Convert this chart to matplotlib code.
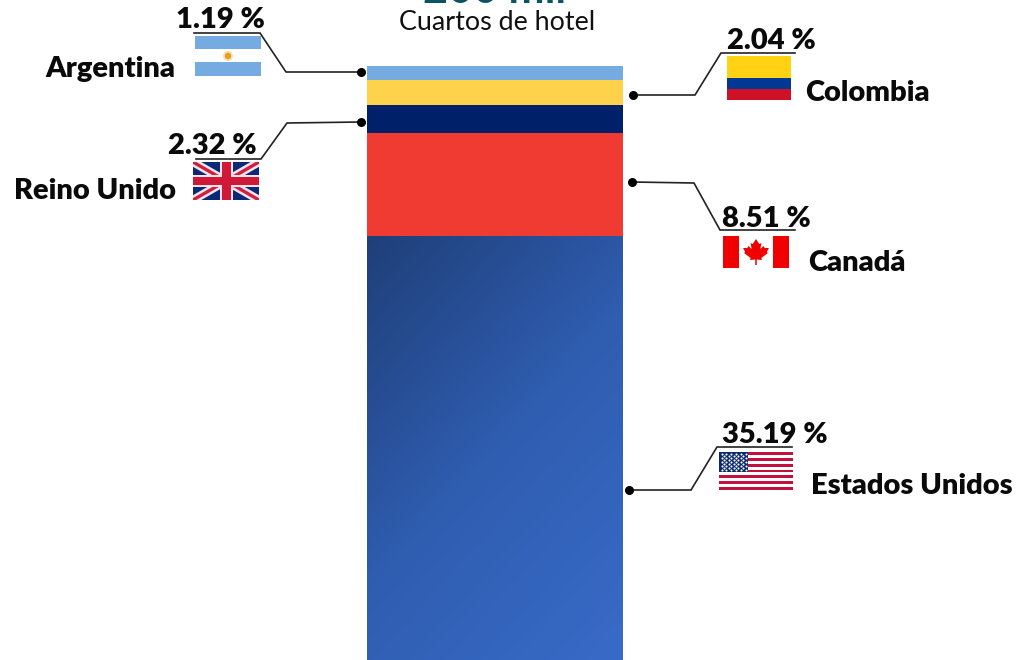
import numpy as np
import matplotlib
matplotlib.use("Agg")
import matplotlib.pyplot as plt
from matplotlib.colors import LinearSegmentedColormap
from matplotlib.patches import Rectangle, Polygon, Circle

countries = ["Argentina", "Colombia", "Reino Unido", "Canadá", "Estados Unidos"]
values = [1.19, 2.04, 2.32, 8.51, 35.19]
labels = ["1.19 %", "2.04 %", "2.32 %", "8.51 %", "35.19 %"]
colors = ["#75ABE0", "#FFD24C", "#002169", "#F03B32", "#2F5DB0"]
header = "200 mil"
subtitle = "Cuartos de hotel"

W, H = 1016, 660
plt.rcParams["font.family"] = ["Lato", "DejaVu Sans"]
fig = plt.figure(figsize=(W / 100, H / 100), dpi=100, facecolor="white")

# Annotation layer in pixel coordinates
ax = fig.add_axes([0, 0, 1, 1])
ax.set_xlim(0, W)
ax.set_ylim(H, 0)
ax.axis("off")

# Stacked bar
bx = fig.add_axes([367 / W, 0, 256 / W, 594 / H])
bx.axis("off")
bx.set_xlim(0, 1)
bx.set_ylim(sum(values), 0)
bottom = 0
patches = []
for v, c in zip(values, colors):
    patches.append(bx.bar(0.5, v, width=1, bottom=bottom, color=c, linewidth=0)[0])
    bottom += v

# Gradient on the largest segment
last = patches[-1]
yy, xx = np.mgrid[0:1:300j, 0:1:200j]
t = (0.74 * 256 * xx + 0.67 * 424 * yy) / (0.74 * 256 + 0.67 * 424)
cmap = LinearSegmentedColormap.from_list("g", ["#1F3F78", "#2F5DB0", "#386BC8"])
im = bx.imshow(t, cmap=cmap, extent=(0, 1, last.get_y() + last.get_height(), last.get_y()),
               aspect="auto", zorder=3, vmin=0, vmax=1, interpolation="bilinear")
im.set_clip_path(last)
bx.set_xlim(0, 1)
bx.set_ylim(sum(values), 0)

# Header (cut off by the top edge) and subtitle
ax.text(495, 3, header, color="#0B5563", fontsize=31, fontweight="bold",
        ha="center", va="baseline")
ax.text(497, 30, subtitle, color="#111111", fontsize=19.4, ha="center", va="baseline")

# Leaders
leaders = [
    [(194, 33), (260, 33), (286, 72), (361, 72)],
    [(795, 53), (721, 53), (695, 95), (633, 95)],
    [(196, 159), (261, 159), (287, 123), (361, 122)],
    [(795, 230), (720, 230), (694, 183), (632, 182)],
    [(792, 447), (717, 447), (691, 490), (629, 490)],
]
for pts in leaders:
    xs, ys = zip(*pts)
    ax.plot(xs, ys, color="#222222", lw=1.2, solid_joinstyle="miter")
    ax.plot(xs[-1], ys[-1], "o", color="black", ms=6.5, mew=0)

# Text positions: percentage (x, baseline y), name (x, baseline y)
pct_pos = [(220, 28), (771, 49), (212, 154), (766, 227), (775, 443)]
name_pos = [(175, 77, "right"), (805, 101, "left"), (176, 199, "right"),
            (808, 271, "left"), (811, 494, "left")]
for lab, (x, y) in zip(labels, pct_pos):
    ax.text(x, y, lab, fontsize=21, fontweight="heavy", color="#0A0A0A", ha="center", va="baseline")
for name, (x, y, ha) in zip(countries, name_pos):
    ax.text(x, y, name, fontsize=21, fontweight="heavy", color="#0A0A0A", ha=ha, va="baseline")


def rect(x0, y0, x1, y1, c, z=2):
    ax.add_patch(Rectangle((x0, y0), x1 - x0, y1 - y0, color=c, lw=0, zorder=z))


# Argentina
rect(195, 36, 261, 49, "#75ABE0")
rect(195, 62, 261, 76, "#75ABE0")
ax.add_patch(Circle((228, 56), 5, color="#F6DDAE", lw=0, zorder=3))
ax.add_patch(Circle((228, 56), 3.2, color="#E5A020", lw=0, zorder=4))

# Colombia
rect(727, 56, 791, 78, "#FFD314")
rect(727, 78, 791, 89, "#003893")
rect(727, 89, 791, 100, "#CE1126")

# Canada
rect(723, 236, 739, 268, "#F00000")
rect(773, 236, 789, 268, "#F00000")
cx, cy = 756, 251
leaf = [(0, -12), (3, -7), (5, -8), (4, -2), (7, -5), (8, -3), (12, -3), (10, 1), (11, 2),
        (5, 7), (5.5, 9), (0.7, 8.5), (0.7, 14), (-0.7, 14), (-0.7, 8.5), (-5.5, 9), (-5, 7),
        (-11, 2), (-10, 1), (-12, -3), (-8, -3), (-7, -5), (-4, -2), (-5, -8), (-3, -7)]
ax.add_patch(Polygon([(cx + 1.08 * a, cy + b) for a, b in leaf], color="#F00000", lw=0, zorder=3))

# United Kingdom
ux0, ux1, uy0, uy1 = 193, 259, 162, 200
um, vm = (ux0 + ux1) / 2, (uy0 + uy1) / 2
back = Rectangle((ux0, uy0), ux1 - ux0, uy1 - uy0, color="#0A2A78", lw=0, zorder=2)
ax.add_patch(back)
for (a, b) in [((ux0, uy0), (ux1, uy1)), ((ux0, uy1), (ux1, uy0))]:
    l1, = ax.plot([a[0], b[0]], [a[1], b[1]], color="#F4E4EA", lw=6, zorder=3, solid_capstyle="butt")
    l2, = ax.plot([a[0], b[0]], [a[1], b[1]], color="#D02040", lw=2.4, zorder=4, solid_capstyle="butt")
    l1.set_clip_path(back)
    l2.set_clip_path(back)
rect(um - 6.5, uy0, um + 6.5, uy1, "#F4E4EA", 5)
rect(ux0, vm - 6, ux1, vm + 6, "#F4E4EA", 5)
rect(um - 4.5, uy0, um + 4.5, uy1, "#D01838", 6)
rect(ux0, vm - 3.8, ux1, vm + 3.8, "#D01838", 6)

# United States
sx0, sx1, sy0, sy1 = 719, 793, 452, 490
sh = (sy1 - sy0) / 13
for i in range(0, 13, 2):
    rect(sx0, sy0 + i * sh, sx1, sy0 + (i + 1) * sh, "#C4103C")
rect(sx0, sy0, 748, sy0 + 7 * sh, "#0A2A6C", 3)
sxs, sys_ = [], []
for r in range(9):
    n = 6 if r % 2 == 0 else 5
    off = 0 if r % 2 == 0 else 2.4
    for k in range(n):
        sxs.append(sx0 + 2.6 + off + k * 4.8)
        sys_.append(sy0 + 1.6 + r * 2.1)
ax.scatter(sxs, sys_, s=2.2, color="white", linewidths=0, zorder=4)

fig.savefig("out.png", dpi=100)
